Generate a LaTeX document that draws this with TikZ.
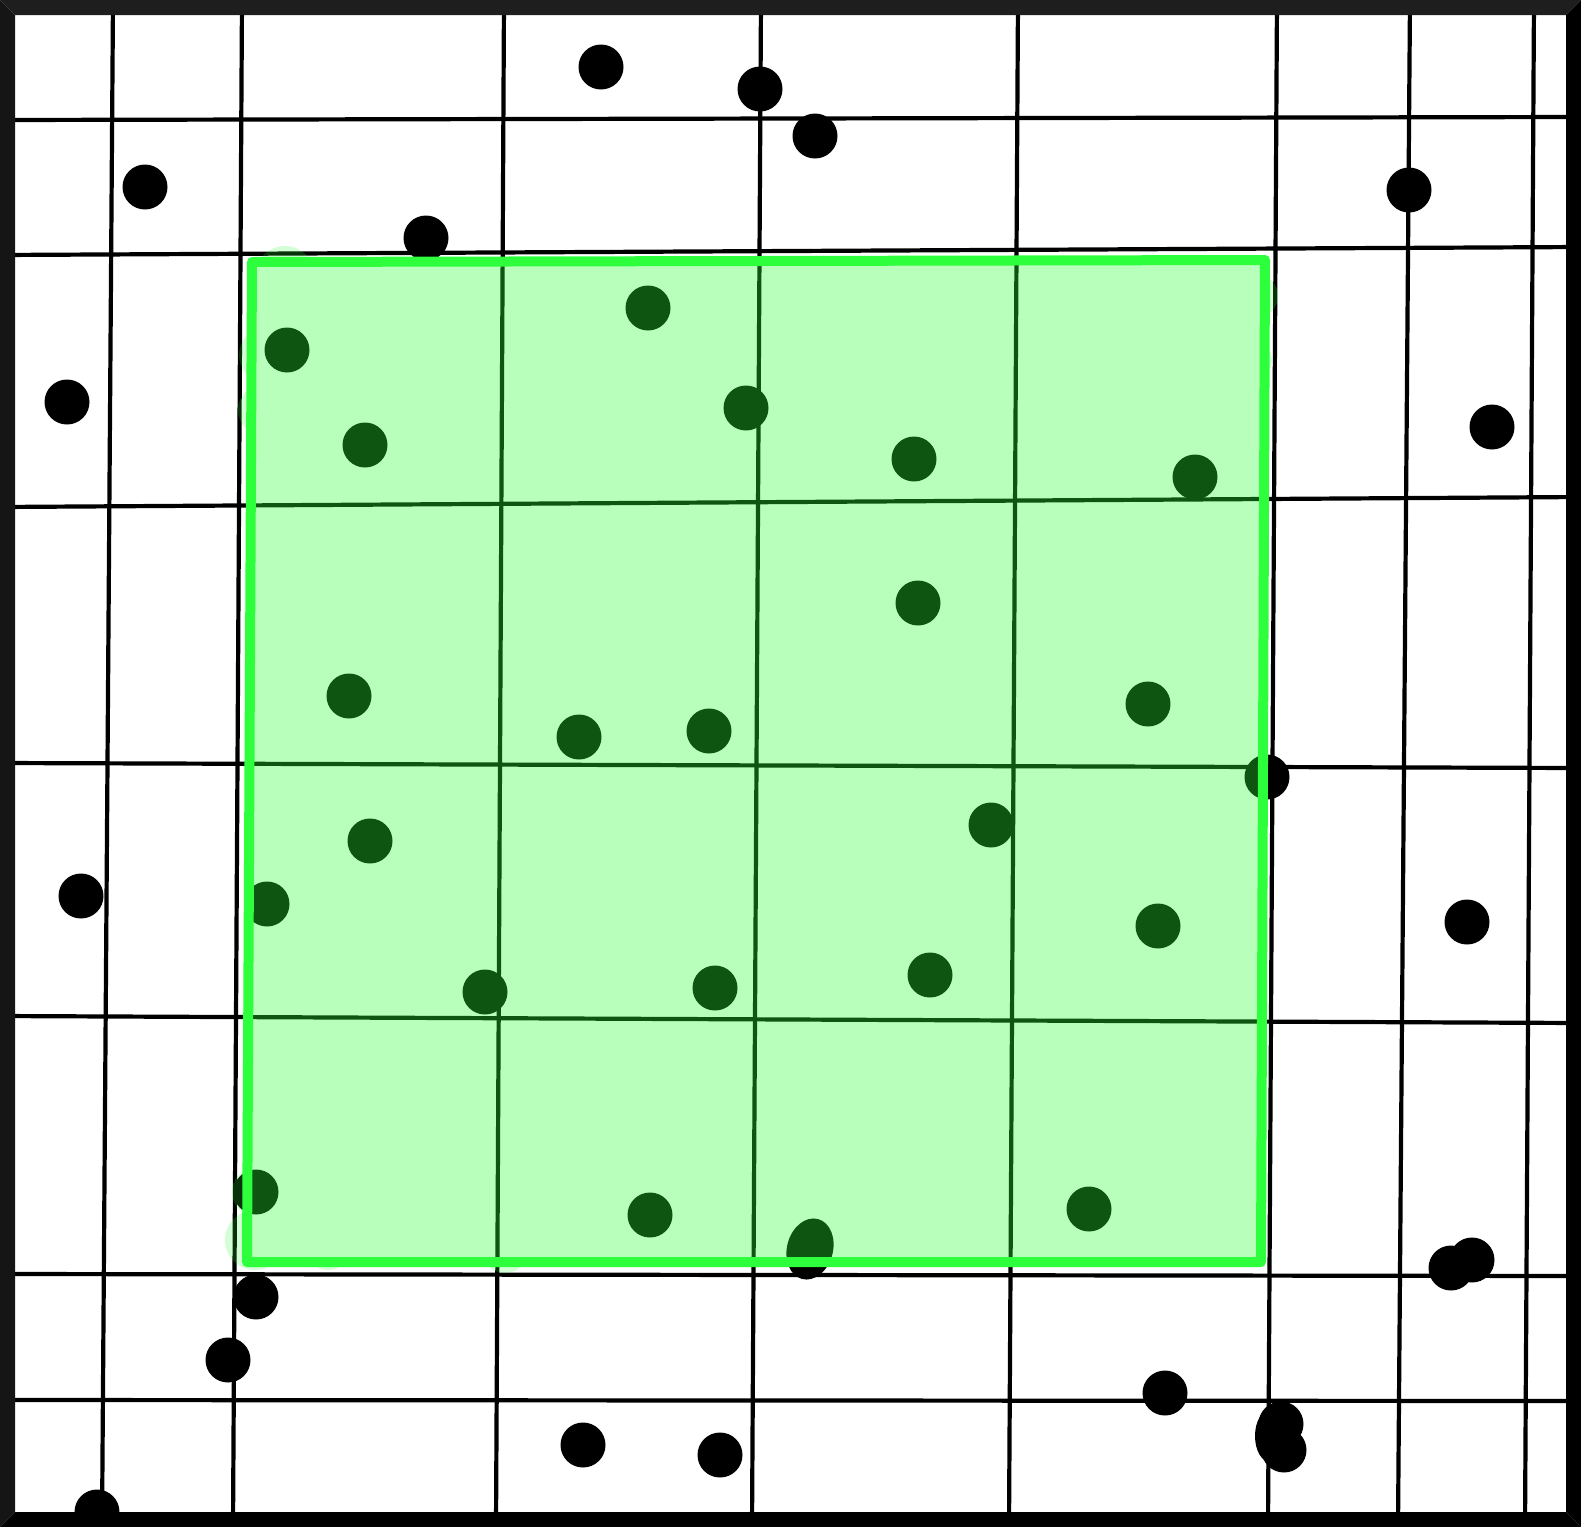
\documentclass[tikz,border=0pt]{standalone}
\begin{document}
\begin{tikzpicture}[x=0.5pt,y=-0.5pt,
  gridline/.style={line width=2.1pt, black},
  blackdot/.style={fill=black},
  ovlfill/.style={fill=ovl, opacity=0.333},
  halo/.style={fill=ovl, opacity=0.2}]
\definecolor{ovl}{RGB}{40,255,52}
\definecolor{edge}{RGB}{46,255,60}
\definecolor{frameA}{RGB}{30,30,30}
\definecolor{frameB}{RGB}{21,21,21}
\useasboundingbox (0,0) rectangle (1581,1527);
\fill[white] (0,0) rectangle (1581,1527);
% grid lines
\begin{scope}
\clip (15,15) rectangle (1566,1512);
\foreach \a/\b in {113/102, 242/233, 504/496, 761/752, 1018/1009, 1277/1268, 1410/1398, 1534/1525}
  \draw[gridline] (\a,0) -- (\b,1527);
\foreach \a/\b in {120/117, 255/247, 507/497, 763/768, 1016/1023, 1274/1276, 1400/1401}
  \draw[gridline] (0,\a) -- (1581,\b);
\end{scope}
% dots
\foreach \x/\y in {601/67, 760/89, 815/136, 145/187, 426/238, 1409/190, 67/402, 1492/427,
  1267/777, 81/896, 1467/922, 256/1297, 228/1360, 1165/1393, 583/1445, 720/1455, 97/1512,
  1451/1268, 1472/1260, 1281/1424, 1284/1450,
  287/350, 648/308, 365/445, 746/408, 914/459, 1195/477, 918/603, 349/696, 579/737,
  709/731, 1148/704, 370/841, 991/825, 267/904, 1158/926, 485/992, 715/988, 930/975,
  256/1192, 650/1215, 1089/1209}
  \fill[blackdot] (\x,\y) circle [radius=22.5];
\fill[blackdot] (1270,1436) ellipse [x radius=15, y radius=26];
\fill[blackdot] (810,1249) [rotate around={-15:(810,1249)}] ellipse [x radius=23, y radius=31];
% overlay
\fill[ovlfill] (252,262) -- (1265,260) -- (1261,1262) -- (247,1262) -- cycle;
\begin{scope}[even odd rule]
\clip (0,0) rectangle (1581,1527) (252,262) -- (1265,260) -- (1261,1262) -- (247,1262) -- cycle;
\foreach \x/\y/\r in {285/276/30, 1256/296/22, 1254/360/18, 266/355/27, 263/410/25,
  257/1192/25, 255/1240/30, 328/1248/22, 505/1250/23}
  \fill[halo] (\x,\y) circle [radius=\r];
\end{scope}
\draw[edge, line width=5pt, line join=round, line cap=round]
  (252,262) -- (1265,260) -- (1261,1262) -- (247,1262) -- cycle;
% frame
\fill[frameA] (0,0) -- (1581,0) -- (1566,15) -- (15,15) -- cycle;
\fill[frameB] (0,0) -- (15,15) -- (15,1512) -- (0,1527) -- cycle;
\fill[black] (1581,0) -- (1581,1527) -- (1566,1512) -- (1566,15) -- cycle;
\fill[black] (0,1527) -- (1581,1527) -- (1566,1512) -- (15,1512) -- cycle;
\end{tikzpicture}
\end{document}
